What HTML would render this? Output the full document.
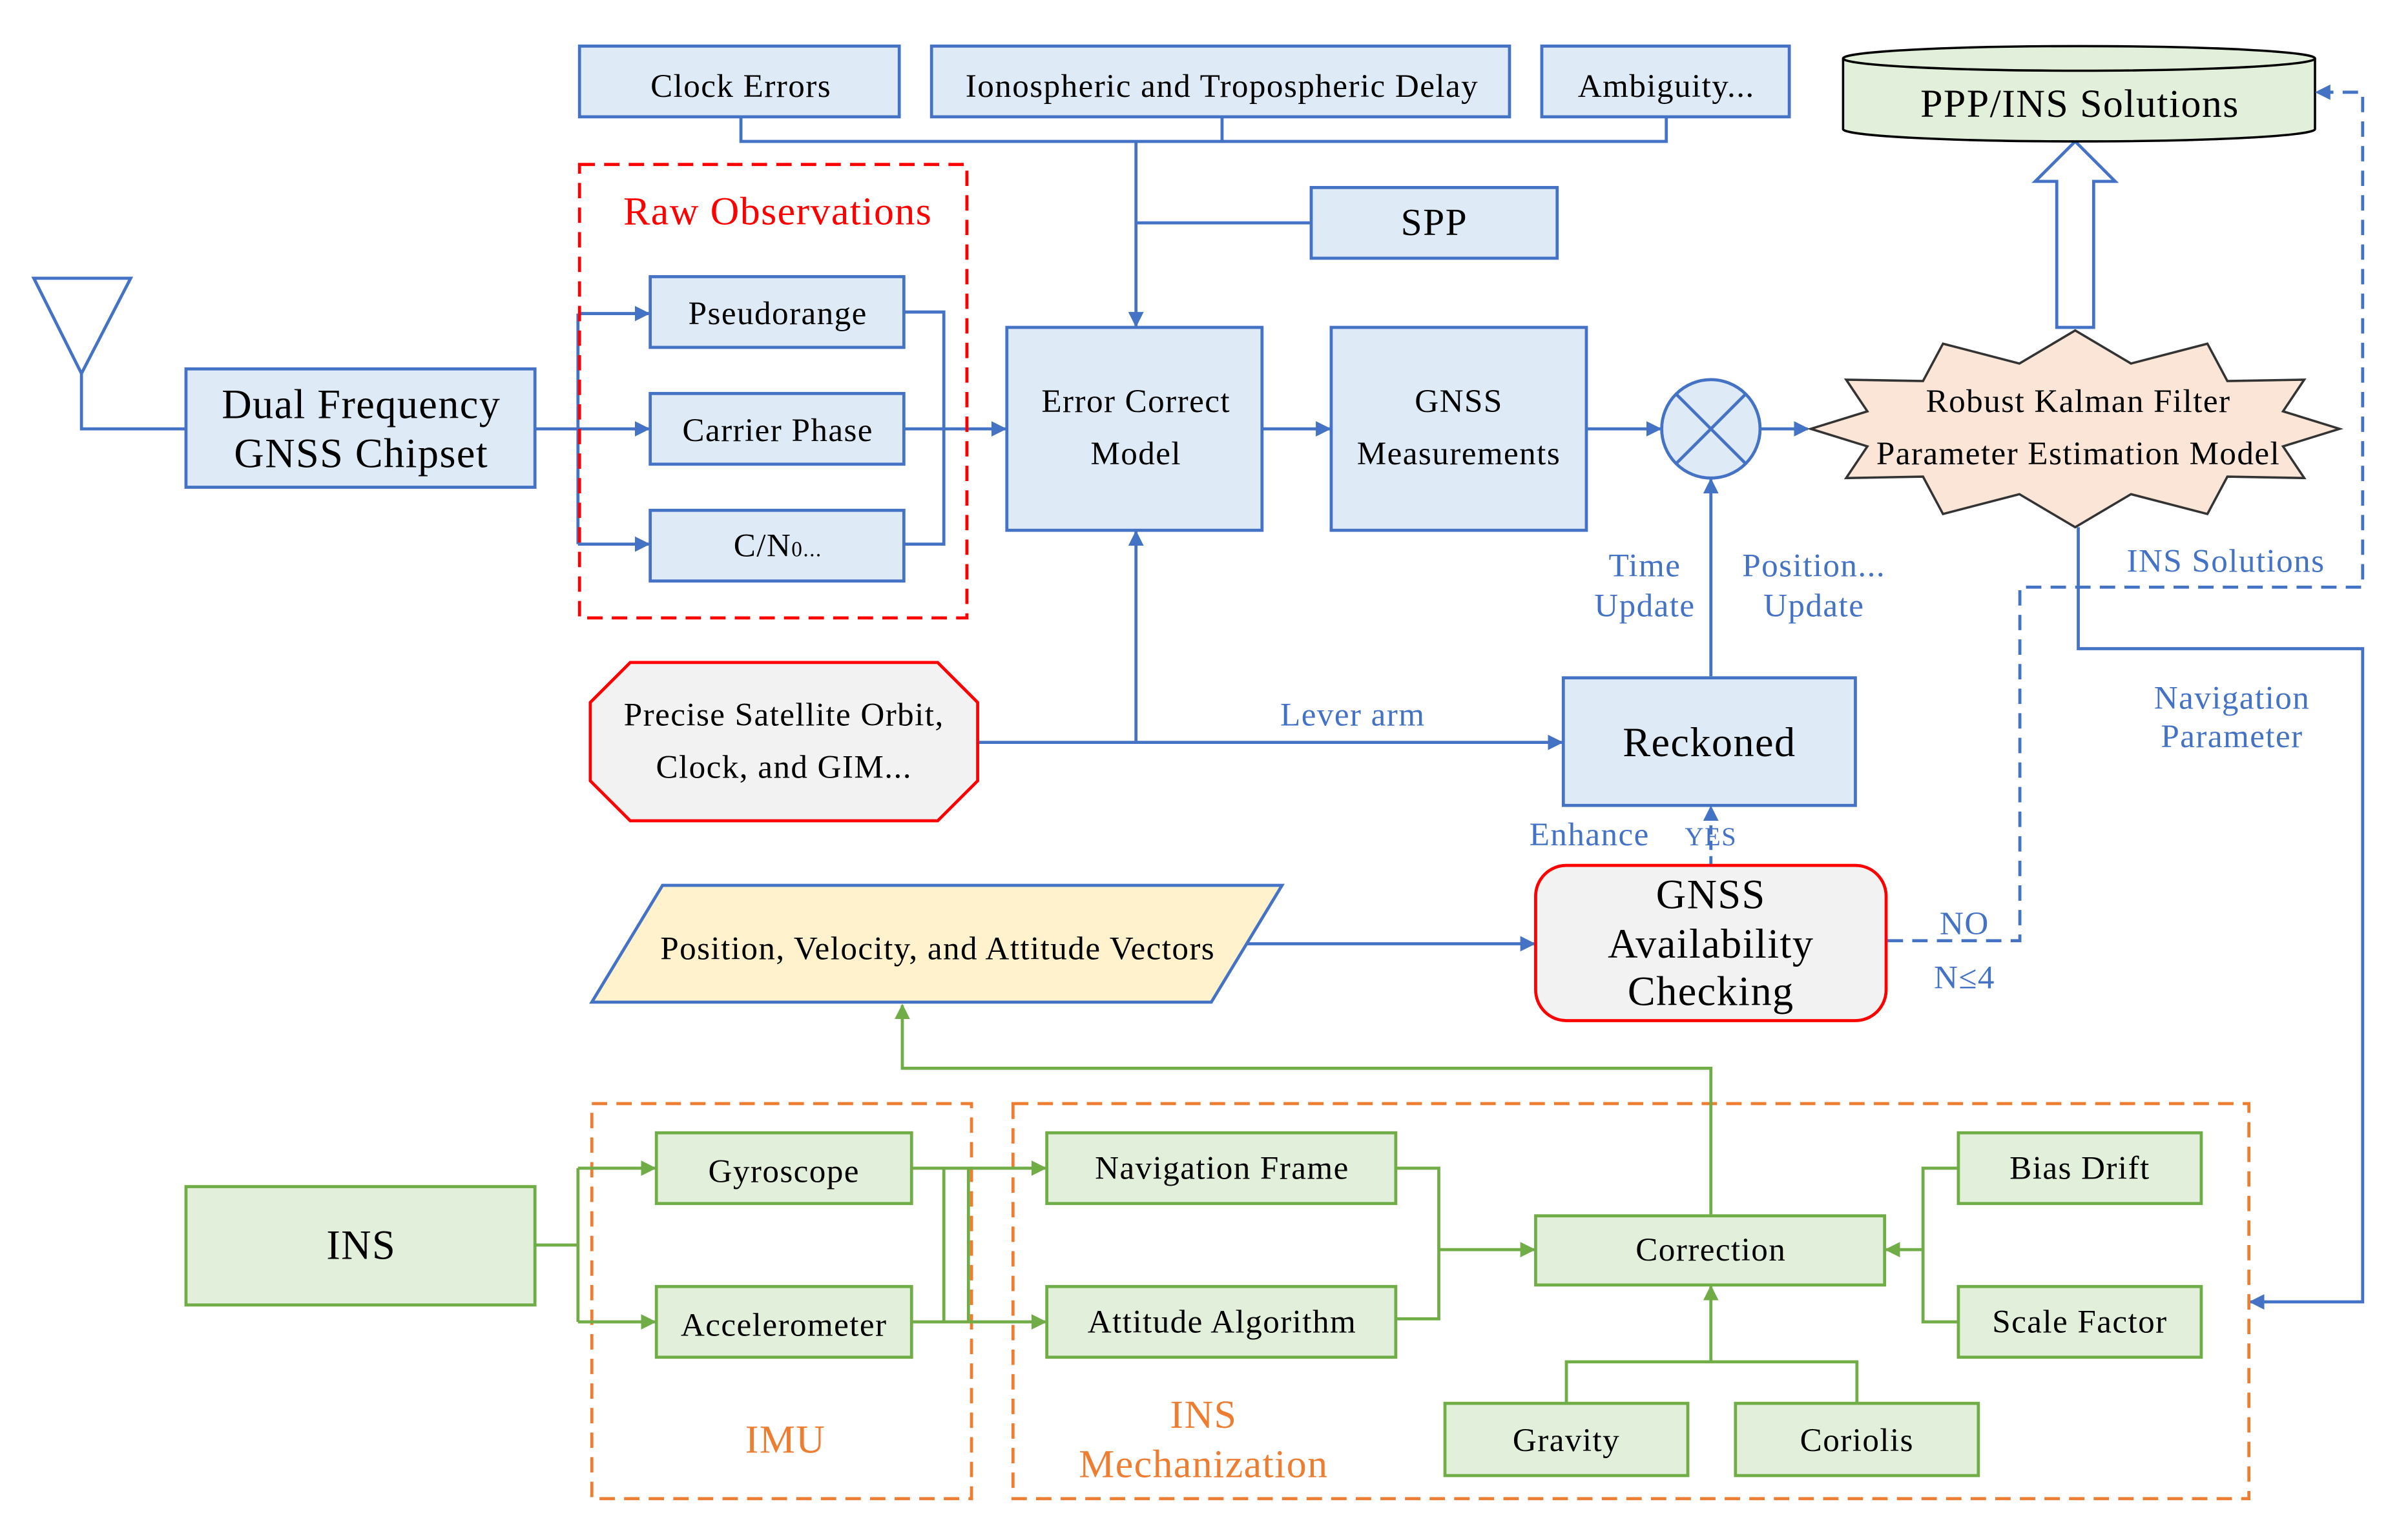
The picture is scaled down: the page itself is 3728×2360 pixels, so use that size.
<!DOCTYPE html>
<html><head><meta charset="utf-8"><style>
html,body{margin:0;padding:0;background:#fff}
svg{display:block}
text{font-family:"Liberation Serif",serif;letter-spacing:0.6px}
</style></head><body>
<svg width="3728" height="2360" viewBox="0 0 1566.5 991.5" preserveAspectRatio="none" xmlns="http://www.w3.org/2000/svg">
<defs>
<marker id="ab" markerWidth="10" markerHeight="10" refX="9" refY="5" orient="auto" markerUnits="userSpaceOnUse"><path d="M0,0 L10,5 L0,10 z" fill="#4472c4"/></marker>
<marker id="ag" markerWidth="10" markerHeight="10" refX="9" refY="5" orient="auto" markerUnits="userSpaceOnUse"><path d="M0,0 L10,5 L0,10 z" fill="#70ad47"/></marker>
</defs>
<g fill="none" stroke="#4472c4" stroke-width="2">
<rect x="377" y="30" width="208" height="46" fill="#deebf7"/>
<rect x="606" y="30" width="376" height="46" fill="#deebf7"/>
<rect x="1003" y="30" width="161" height="46" fill="#deebf7"/>
<polyline points="482,76 482,92 1084,92 1084,76"/>
<line x1="795" y1="76" x2="795" y2="92"/>
<line x1="739" y1="92" x2="739" y2="212" marker-end="url(#ab)"/>
<rect x="853" y="122" width="160" height="46" fill="#deebf7"/>
<line x1="739" y1="145" x2="853" y2="145"/>
<polygon points="22,181 85,181 53,243" fill="#fff"/>
<polyline points="53,243 53,279 121,279"/>
<rect x="121" y="240" width="227" height="77" fill="#deebf7"/>
<line x1="348" y1="279" x2="376" y2="279"/>
<line x1="376" y1="204" x2="376" y2="354"/>
<line x1="376" y1="204" x2="422" y2="204" marker-end="url(#ab)"/>
<line x1="376" y1="279" x2="422" y2="279" marker-end="url(#ab)"/>
<line x1="376" y1="354" x2="422" y2="354" marker-end="url(#ab)"/>
<rect x="423" y="180" width="165" height="46" fill="#deebf7"/>
<rect x="423" y="256" width="165" height="46" fill="#deebf7"/>
<rect x="423" y="332" width="165" height="46" fill="#deebf7"/>
<polyline points="588,203 614,203 614,354 588,354"/>
<line x1="588" y1="279" x2="654" y2="279" marker-end="url(#ab)"/>
<rect x="655" y="213" width="166" height="132" fill="#deebf7"/>
<line x1="821" y1="279" x2="865" y2="279" marker-end="url(#ab)"/>
<rect x="866" y="213" width="166" height="132" fill="#deebf7"/>
<line x1="1032" y1="279" x2="1080" y2="279" marker-end="url(#ab)"/>
<circle cx="1113" cy="279" r="32" fill="#deebf7"/>
<line x1="1090" y1="256" x2="1136" y2="302"/><line x1="1136" y1="256" x2="1090" y2="302"/>
<line x1="1145" y1="279" x2="1176" y2="279" marker-end="url(#ab)"/>
<polygon points="1338,213 1362,213 1362,118 1376,118 1350,92 1324,118 1338,118" fill="#fff"/>
<path d="M1199,38 L1199,84 A153.5,8 0 0 0 1506,84 L1506,38" fill="#e2efda" stroke="#000" stroke-width="1.5"/>
<ellipse cx="1352.5" cy="38" rx="153.5" ry="8" fill="#e2efda" stroke="#000" stroke-width="1.5"/>
<polyline points="1352,343 1352,422 1537,422 1537,847 1464,847" marker-end="url(#ab)"/>
<polyline points="1228,612 1314,612 1314,382 1537,382 1537,60 1507,60" stroke-dasharray="10,6" marker-end="url(#ab)"/>
<line x1="1113" y1="440" x2="1113" y2="312" marker-end="url(#ab)"/>
<line x1="636" y1="483" x2="1016" y2="483" marker-end="url(#ab)"/>
<line x1="739" y1="483" x2="739" y2="346" marker-end="url(#ab)"/>
<rect x="1017" y="441" width="190" height="83" fill="#deebf7"/>
<line x1="1113" y1="563" x2="1113" y2="525" stroke-dasharray="6,4" marker-end="url(#ab)"/>
<line x1="810" y1="614" x2="998" y2="614" marker-end="url(#ab)"/>
</g>
<polygon points="1522,279 1485.2,290.4 1499,311 1449,310.1 1436,334.4 1386.3,321.5 1350,343 1313.7,321.5 1264,334.4 1251,310.1 1201,311 1214.8,290.4 1178,279 1214.8,267.6 1201,247 1251,247.9 1264,223.6 1313.7,236.5 1350,215 1386.3,236.5 1436,223.6 1449,247.9 1499,247 1485.2,267.6" fill="#fbe5d6" stroke="#333" stroke-width="1.5"/>
<rect x="377" y="107" width="252" height="295" fill="none" stroke="#ff0000" stroke-width="2" stroke-dasharray="10,6"/>
<polygon points="410,431 610,431 636,457 636,508 610,534 410,534 384,508 384,457" fill="#f2f2f2" stroke="#ff0000" stroke-width="2"/>
<rect x="999" y="563" width="228" height="101" rx="20" fill="#f2f2f2" stroke="#ff0000" stroke-width="2"/>
<polygon points="385,652 431,576 834,576 788,652" fill="#fff2cc" stroke="#4472c4" stroke-width="2"/>
<rect x="385" y="718" width="247" height="257" fill="none" stroke="#ed7d31" stroke-width="2" stroke-dasharray="10,6"/>
<rect x="659" y="718" width="804" height="257" fill="none" stroke="#ed7d31" stroke-width="2" stroke-dasharray="10,6"/>
<g fill="none" stroke="#70ad47" stroke-width="2">
<polyline points="1113,790 1113,695 587,695 587,654" marker-end="url(#ag)"/>
<rect x="121" y="772" width="227" height="77" fill="#e2efda"/>
<line x1="348" y1="810" x2="376" y2="810"/>
<line x1="376" y1="760" x2="376" y2="860"/>
<line x1="376" y1="760" x2="426" y2="760" marker-end="url(#ag)"/>
<line x1="376" y1="860" x2="426" y2="860" marker-end="url(#ag)"/>
<rect x="427" y="737" width="166" height="46" fill="#e2efda"/>
<rect x="427" y="837" width="166" height="46" fill="#e2efda"/>
<line x1="593" y1="760" x2="680" y2="760" marker-end="url(#ag)"/>
<line x1="593" y1="860" x2="680" y2="860" marker-end="url(#ag)"/>
<line x1="614" y1="760" x2="614" y2="860"/>
<line x1="630" y1="760" x2="630" y2="860"/>
<rect x="681" y="737" width="227" height="46" fill="#e2efda"/>
<rect x="681" y="837" width="227" height="46" fill="#e2efda"/>
<polyline points="908,760 936,760 936,858 908,858"/>
<line x1="936" y1="813" x2="998" y2="813" marker-end="url(#ag)"/>
<rect x="999" y="791" width="227" height="45" fill="#e2efda"/>
<rect x="1274" y="737" width="158" height="46" fill="#e2efda"/>
<rect x="1274" y="837" width="158" height="46" fill="#e2efda"/>
<polyline points="1274,760 1251,760 1251,860 1274,860"/>
<line x1="1251" y1="813" x2="1227" y2="813" marker-end="url(#ag)"/>
<rect x="940" y="913" width="158" height="47" fill="#e2efda"/>
<rect x="1129" y="913" width="158" height="47" fill="#e2efda"/>
<polyline points="1019,913 1019,886 1208,886 1208,913"/>
<line x1="1113" y1="886" x2="1113" y2="837" marker-end="url(#ag)"/>
</g>
<g text-anchor="middle" fill="#000" font-size="21.5">
<text x="482" y="63">Clock Errors</text>
<text x="795" y="63">Ionospheric and Tropospheric Delay</text>
<text x="1084" y="63">Ambiguity...</text>
<text x="933" y="153" font-size="25">SPP</text>
<text x="1353" y="76" font-size="26">PPP/INS Solutions</text>
<text x="506" y="146" font-size="26" fill="#ff0000">Raw Observations</text>
<text x="506" y="211">Pseudorange</text>
<text x="506" y="287">Carrier Phase</text>
<text x="506" y="362">C/N<tspan font-size="14">0...</tspan></text>
<text x="235" y="272" font-size="27">Dual Frequency</text>
<text x="235" y="304" font-size="27">GNSS Chipset</text>
<text x="739" y="268">Error Correct</text>
<text x="739" y="302">Model</text>
<text x="949" y="268">GNSS</text>
<text x="949" y="302">Measurements</text>
<text x="1352" y="268">Robust Kalman Filter</text>
<text x="1352" y="302">Parameter Estimation Model</text>
<text x="510" y="472">Precise Satellite Orbit,</text>
<text x="510" y="506">Clock, and GIM...</text>
<text x="1112" y="492" font-size="27">Reckoned</text>
<text x="1113" y="591" font-size="27">GNSS</text>
<text x="1113" y="623" font-size="27">Availability</text>
<text x="1113" y="654" font-size="27">Checking</text>
<text x="610" y="624">Position, Velocity, and Attitude Vectors</text>
<text x="235" y="819" font-size="27">INS</text>
<text x="510" y="769">Gyroscope</text>
<text x="510" y="869">Accelerometer</text>
<text x="795" y="767">Navigation Frame</text>
<text x="795" y="867">Attitude Algorithm</text>
<text x="1113" y="820">Correction</text>
<text x="1353" y="767">Bias Drift</text>
<text x="1353" y="867">Scale Factor</text>
<text x="1019" y="944">Gravity</text>
<text x="1208" y="944">Coriolis</text>
<g fill="#ed7d31" font-size="26">
<text x="511" y="945">IMU</text>
<text x="783" y="929">INS</text>
<text x="783" y="961">Mechanization</text>
</g>
<g fill="#4472c4">
<text x="880" y="472">Lever arm</text>
<text x="1070" y="375">Time</text>
<text x="1070" y="401">Update</text>
<text x="1180" y="375">Position...</text>
<text x="1180" y="401">Update</text>
<text x="1448" y="372">INS Solutions</text>
<text x="1452" y="461">Navigation</text>
<text x="1452" y="486">Parameter</text>
<text x="1034" y="550">Enhance</text>
<text x="1113" y="550" font-size="17">YES</text>
<text x="1278" y="608">NO</text>
<text x="1278" y="643">N≤4</text>
</g>
</g>
</svg>
</body></html>
